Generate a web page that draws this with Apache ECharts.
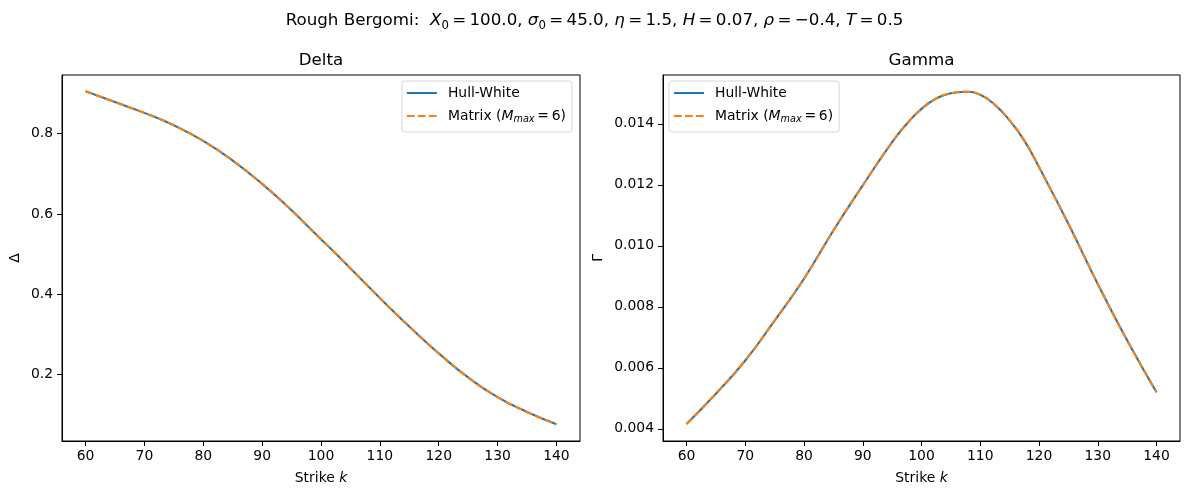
<!DOCTYPE html>
<html>
<head>
<meta charset="utf-8">
<script src="https://cdn.jsdelivr.net/npm/echarts@6/dist/echarts.min.js"></script>
<style>
  html, body { margin: 0; padding: 0; background: #fff; }
  #main { width: 1189px; height: 495px; }
</style>
</head>
<body>
<div id="main"></div>
<script>
// strikes and greeks
const strikes = [60, 65, 70, 75, 80, 85, 90, 95, 97.5, 100, 102.5, 105, 107.5, 110, 112.5, 115, 117.5, 120, 125, 130, 135, 140];
const hullWhiteDelta = [0.906, 0.879, 0.852, 0.821, 0.782, 0.733, 0.675, 0.609, 0.573, 0.537, 0.501, 0.464, 0.427, 0.390, 0.354, 0.319, 0.285, 0.252, 0.192, 0.143, 0.106, 0.0755];
const matrixDelta = [0.906, 0.879, 0.852, 0.821, 0.782, 0.733, 0.675, 0.609, 0.573, 0.537, 0.501, 0.464, 0.427, 0.390, 0.354, 0.319, 0.285, 0.252, 0.192, 0.143, 0.106, 0.0755];
const hullWhiteGamma = [0.00416, 0.00515, 0.00624, 0.00755, 0.00892, 0.01050, 0.01198, 0.01340, 0.01400, 0.01449, 0.01483, 0.01500, 0.01505, 0.01495, 0.01462, 0.01411, 0.01345, 0.01258, 0.01072, 0.00875, 0.00690, 0.00520];
const matrixGamma = [0.00416, 0.00515, 0.00624, 0.00755, 0.00892, 0.01050, 0.01198, 0.01340, 0.01400, 0.01449, 0.01483, 0.01500, 0.01505, 0.01495, 0.01462, 0.01411, 0.01345, 0.01258, 0.01072, 0.00875, 0.00690, 0.00520];

const strikeTicks = [60, 70, 80, 90, 100, 110, 120, 130, 140];
const deltaTicks = [0.2, 0.4, 0.6, 0.8];
const gammaTicks = [0.004, 0.006, 0.008, 0.010, 0.012, 0.014];

const hwName = 'Hull-White';
const mxName = 'Matrix (M_max = 6)';

const FONT = 'DejaVu Sans';
const BLUE = '#1f77b4';
const ORANGE = '#ff7f0e';
const EQ = '\u2009=\u2009';

function pairs(xs, ys) {
    return xs.map(function (x, i) { return [x, ys[i]]; });
}

function xAxisFor(gridIndex) {
    return {
        type: 'value',
        gridIndex: gridIndex,
        min: 56,
        max: 144,
        name: '{n|Strike }{i|k}',
        nameLocation: 'middle',
        nameGap: 30,
        nameTextStyle: {
            rich: {
                n: { fontFamily: FONT, fontSize: 13.9, color: '#000' },
                i: { fontFamily: FONT, fontSize: 13.9, fontStyle: 'italic', color: '#000' }
            }
        },
        axisLine: { show: true, onZero: false, lineStyle: { color: '#000', width: 1 } },
        axisTick: { show: true, length: 5, lineStyle: { color: '#000', width: 1 }, customValues: strikeTicks },
        axisLabel: { color: '#000', fontFamily: FONT, fontSize: 13.9, margin: 8, customValues: strikeTicks },
        splitLine: { show: false }
    };
}

function yAxisFor(gridIndex, min, max, ticks, digits, name, gap) {
    return {
        type: 'value',
        gridIndex: gridIndex,
        min: min,
        max: max,
        name: name,
        nameLocation: 'middle',
        nameGap: gap,
        nameTextStyle: { fontFamily: FONT, fontSize: 13.9, color: '#000' },
        axisLine: { show: true, onZero: false, lineStyle: { color: '#000', width: 1 } },
        axisTick: { show: true, length: 5, lineStyle: { color: '#000', width: 1 }, customValues: ticks },
        axisLabel: {
            color: '#000', fontFamily: FONT, fontSize: 13.9, margin: 9,
            customValues: ticks,
            formatter: function (v) { return v.toFixed(digits); }
        },
        splitLine: { show: false }
    };
}

function lineSeries(name, xi, data, color, dashed) {
    return {
        name: name,
        type: 'line',
        xAxisIndex: xi,
        yAxisIndex: xi,
        data: data,
        symbol: 'none',
        smooth: 0.5,
        animation: false,
        silent: true,
        color: color,
        lineStyle: { color: color, width: 2.1, type: dashed ? [7.7, 3.3] : 'solid', cap: 'butt' }
    };
}

const legendRich = {
    a: { fontFamily: FONT, fontSize: 13.9, color: '#000', lineHeight: 16, padding: [0, 0, 0, 6] },
    n: { fontFamily: FONT, fontSize: 13.9, color: '#000', lineHeight: 16 },
    i: { fontFamily: FONT, fontSize: 13.9, fontStyle: 'italic', color: '#000', lineHeight: 16 },
    s: { fontFamily: FONT, fontSize: 9.7, fontStyle: 'italic', color: '#000', lineHeight: 10, verticalAlign: 'bottom' }
};

function legendFormatter(name) {
    if (name === mxName) return '{a|Matrix (}{i|M}{s|max}{n|' + EQ + '6)}';
    return '{a|' + name + '}';
}

function legendFor(pos) {
    return Object.assign({
        data: [hwName, mxName],
        top: 81,
        orient: 'vertical',
        itemWidth: 30,
        itemHeight: 14,
        itemGap: 9,
        padding: [5, 6, 8, 4],
        backgroundColor: '#fff',
        borderColor: '#d6d6d6',
        borderWidth: 1,
        borderRadius: 3,
        formatter: legendFormatter,
        itemStyle: { opacity: 0, borderWidth: 0 },
        textStyle: { rich: legendRich },
        selectedMode: false
    }, pos);
}

const titleRich = {
    n: { fontFamily: FONT, fontSize: 16.7, fontWeight: 'normal', color: '#000', lineHeight: 22 },
    i: { fontFamily: FONT, fontSize: 16.7, fontWeight: 'normal', fontStyle: 'italic', color: '#000', lineHeight: 22 },
    s: { fontFamily: FONT, fontSize: 11.7, fontWeight: 'normal', color: '#000', lineHeight: 12, verticalAlign: 'bottom' }
};

const supTitle = '{n|Rough Bergomi:  }{i|X}{s|0}{n|' + EQ + '100.0, }{i|σ}{s|0}{n|' + EQ + '45.0, }{i|η}{n|' + EQ + '1.5, }' +
    '{i|H}{n|' + EQ + '0.07, }{i|ρ}{n|' + EQ + '−0.4, }{i|T}{n|' + EQ + '0.5}';

const option = {
    backgroundColor: '#fff',
    animation: false,
    textStyle: { fontFamily: FONT },
    title: [
        { text: supTitle, left: 'center', top: 10, padding: 0, textStyle: { fontWeight: 'normal', rich: titleRich } },
        { text: 'Delta', left: 321, textAlign: 'center', top: 51, padding: 0,
          textStyle: { fontFamily: FONT, fontSize: 16.7, fontWeight: 'normal', color: '#000', lineHeight: 20 } },
        { text: 'Gamma', left: 921.5, textAlign: 'center', top: 51, padding: 0,
          textStyle: { fontFamily: FONT, fontSize: 16.7, fontWeight: 'normal', color: '#000', lineHeight: 20 } }
    ],
    legend: [
        legendFor({ right: 617 }),
        legendFor({ left: 669 })
    ],
    grid: [
        { left: 62, top: 75, width: 518, height: 366, show: true, borderColor: '#000', borderWidth: 1, backgroundColor: 'transparent' },
        { left: 663, top: 75, width: 517, height: 366, show: true, borderColor: '#000', borderWidth: 1, backgroundColor: 'transparent' }
    ],
    xAxis: [xAxisFor(0), xAxisFor(1)],
    yAxis: [
        yAxisFor(0, 0.0335, 0.9465, deltaTicks, 1, 'Δ', 40),
        yAxisFor(1, 0.0036, 0.0156, gammaTicks, 3, 'Γ', 58)
    ],
    series: [
        lineSeries(hwName, 0, pairs(strikes, hullWhiteDelta), BLUE, false),
        lineSeries(mxName, 0, pairs(strikes, matrixDelta), ORANGE, true),
        lineSeries(hwName, 1, pairs(strikes, hullWhiteGamma), BLUE, false),
        lineSeries(mxName, 1, pairs(strikes, matrixGamma), ORANGE, true)
    ]
};

echarts.init(document.getElementById('main')).setOption(option);
</script>
</body>
</html>
